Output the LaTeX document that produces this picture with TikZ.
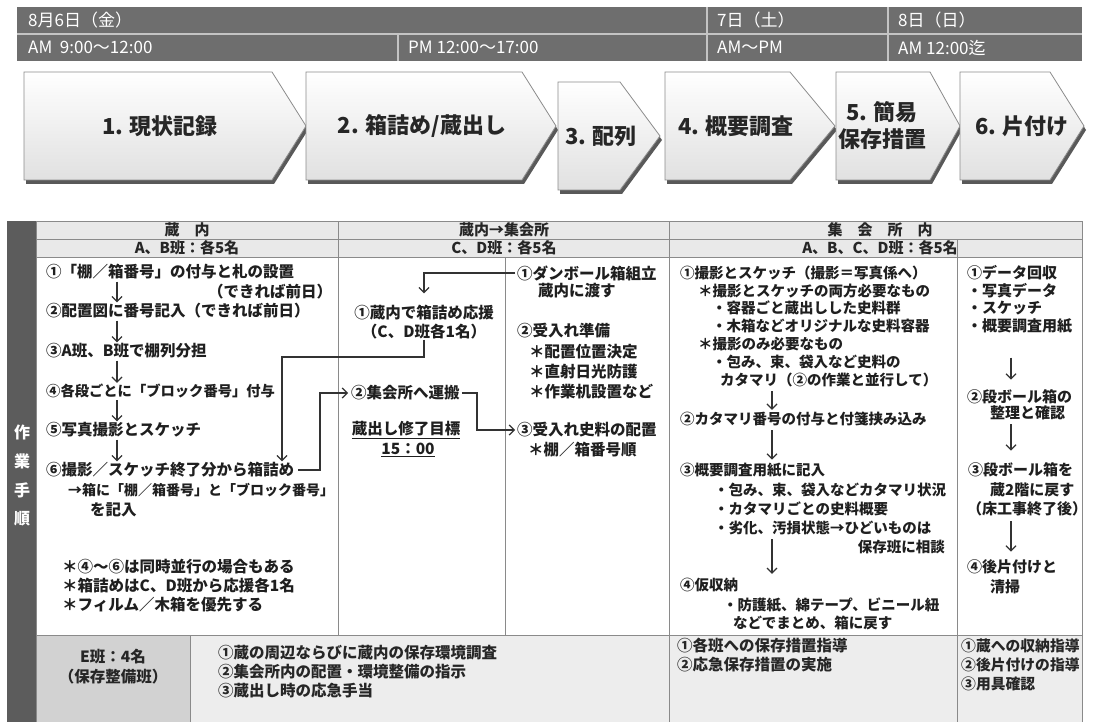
\documentclass[tikz,border=0pt]{standalone}
\usepackage{fontspec}
\setmainfont{Noto Sans CJK JP}
\usetikzlibrary{arrows.meta,calc}
\definecolor{bandc}{HTML}{6E6E6E}
\definecolor{bandl}{HTML}{C4C4C4}
\definecolor{stripc}{HTML}{5C5C5C}
\definecolor{hdrc}{HTML}{E9E9E9}
\definecolor{botd}{HTML}{D2D2D2}
\definecolor{botl}{HTML}{EDEDED}
\definecolor{gridc}{HTML}{8A8A8A}
\newcommand{\mychev}[8]{%
  \fill[black!65] ({#1+2},{#4+4}) -- ({#2+2},{#4+4}) -- ({#3+2},{(#4+#5)/2+4}) -- ({#2+2},{#5+4}) -- ({#1+2},{#5+4}) -- cycle;
  \shadedraw[top color=white,bottom color=black!12,draw=black!45,line width=0.8pt] (#1,#4) -- (#2,#4) -- (#3,{(#4+#5)/2}) -- (#2,#5) -- (#1,#5) -- cycle;
  \node[cl] (#6) at (#8,{(#4+#5)/2}) {#7};
}
\begin{document}
\begin{tikzpicture}[x=1pt,y=-1pt,
  tx/.style={anchor=west,inner sep=0pt,font=\bfseries\fontsize{14.5}{17}\selectfont,text=black!88},
  te/.style={tx,font=\bfseries\fontsize{15}{17}\selectfont},
  ta/.style={tx,font=\bfseries\fontsize{15.5}{17}\selectfont},
  tac/.style={ta,anchor=center},
  txe/.style={tx,anchor=east},
  hd/.style={anchor=west,inner sep=0pt,font=\fontsize{17}{19}\selectfont,text=white},
  th/.style={anchor=center,inner sep=0pt,font=\bfseries\fontsize{15}{17}\selectfont,text=black!85},
  cl/.style={anchor=center,inner sep=0pt,font=\bfseries\fontsize{22}{27}\selectfont,text=black!85,align=center},
  vt/.style={anchor=center,inner sep=0pt,font=\bfseries\fontsize{16}{18}\selectfont,text=white},
  bt/.style={anchor=west,inner sep=0pt,font=\bfseries\fontsize{15.5}{17}\selectfont,text=black!85},
  ar/.style={draw=black!80,line width=1.2pt,-{Straight Barb[length=5pt,width=10pt]}},
  ln/.style={draw=gridc,line width=1pt},
  bl/.style={draw=bandl,line width=1.3pt}
]
\useasboundingbox (0,0) rectangle (1094,722);
\fill[white] (0,0) rectangle (1094,722);

% ---------- schedule band ----------
\fill[bandc] (17,7) rectangle (1082,61);
\draw[bl] (17,34) -- (1082,34);
\draw[bl] (398,34) -- (398,61);
\draw[bl] (707,7) -- (707,61);
\draw[bl] (888,7) -- (888,61);
\node[hd] (d6) at (28,20) {8月6日（金）};
\node[hd] (d7) at (717,20) {7日（土）};
\node[hd] (d8) at (898,20) {8日（日）};
\node[hd] (t1) at (28,47.5) {AM\ \ 9:00～12:00};
\node[hd] (t2) at (408,47.5) {PM 12:00～17:00};
\node[hd] (t3) at (717,47.5) {AM～PM};
\node[hd] (t4) at (898,47.5) {AM 12:00迄};

% ---------- process arrows ----------
\mychev{24}{272}{306}{72}{180}{p1}{1. 現状記録}{160}
\mychev{306}{522}{556}{72}{180}{p2}{2. 箱詰め/蔵出し}{422}
\mychev{558}{620}{660}{82}{190}{p3}{3. 配列}{601}
\mychev{665}{790}{835}{72}{180}{p4}{4. 概要調査}{736}
\mychev{836}{930}{960}{72}{180}{p5}{5. 簡易\\保存措置}{882}
\mychev{960}{1050}{1084}{72}{180}{p6}{6. 片付け}{1022}

% ---------- table frame ----------
\fill[stripc] (7,221) rectangle (36,722);
\fill[hdrc] (36,221) rectangle (1082,257);
\fill[botd] (36,635) rectangle (190,722);
\fill[botl] (190,635) rectangle (1082,722);
\draw[ln] (36,221) -- (1082,221);
\draw[ln] (36,239) -- (1082,239);
\draw[ln] (36,257) -- (1082,257);
\draw[ln] (36,635) -- (1082,635);
\draw[ln] (36,221) -- (36,722);
\draw[ln] (1082,221) -- (1082,722);
\draw[ln] (338,221) -- (338,635);
\draw[ln] (669,221) -- (669,722);
\draw[ln] (505,257) -- (505,635);
\draw[ln] (957,239) -- (957,722);
\draw[ln] (190,635) -- (190,722);

\node[vt] (v1) at (22,432) {作};
\node[vt] (v2) at (22,461) {業};
\node[vt] (v3) at (22,490) {手};
\node[vt] (v4) at (22,519) {順};

\node[th] (h1) at (187,230) {蔵　内};
\node[th] (h1b) at (187,248) {A、B班：各5名};
\node[th] (h2) at (504,230) {蔵内→集会所};
\node[th] (h2b) at (504,248) {C、D班：各5名};
\node[th] (h3) at (880,230) {集　会　所　内};
\node[th] (h3b) at (880,248) {A、B、C、D班：各5名};

% ---------- column A ----------
\node[ta] (a1) at (46,272) {①「棚／箱番号」の付与と札の設置};
\node[ta] (a1b) at (208,292) {（できれば前日）};
\node[ta] (a2) at (46,311) {②配置図に番号記入（できれば前日）};
\node[ta] (a3) at (46,351) {③A班、B班で棚列分担};
\node[ta,font=\bfseries\fontsize{14.3}{16}\selectfont] (a4) at (46,391) {④各段ごとに「ブロック番号」付与};
\node[ta] (a5) at (46,430) {⑤写真撮影とスケッチ};
\node[ta] (a6) at (46,470) {⑥撮影／スケッチ終了分から箱詰め};
\node[ta,font=\bfseries\fontsize{14}{16}\selectfont] (a7) at (68,490) {→箱に「棚／箱番号」と「ブロック番号」};
\node[ta] (a8) at (90,510) {を記入};
\node[ta] (a9) at (62,567) {＊④～⑥は同時並行の場合もある};
\node[ta] (a10) at (62,586) {＊箱詰めはC、D班から応援各1名};
\node[ta] (a11) at (62,605) {＊フィルム／木箱を優先する};

% ---------- column B ----------
\node[tac] (b1) at (424,313) {①蔵内で箱詰め応援};
\node[tac] (b1b) at (424,332) {（C、D班各1名）};
\node[ta] (b2) at (351,393) {②集会所へ運搬};
\node[tac] (b3) at (406,430) {\underline{蔵出し修了目標}};
\node[tac] (b3b) at (408,450) {\underline{15：00}};
\node[ta] (c1) at (517,273) {①ダンボール箱組立};
\node[ta] (c1b) at (538,291) {蔵内に渡す};
\node[ta] (c2) at (517,331) {②受入れ準備};
\node[ta] (c2a) at (529,352) {＊配置位置決定};
\node[ta] (c2b) at (529,372) {＊直射日光防護};
\node[ta] (c2c) at (529,392) {＊作業机設置など};
\node[ta] (c3) at (517,430) {③受入れ史料の配置};
\node[ta] (c3b) at (528,450) {＊棚／箱番号順};

% ---------- column C ----------
\node[tx] (d1) at (680,273) {①撮影とスケッチ（撮影＝写真係へ）};
\node[tx] (d1a) at (698,291) {＊撮影とスケッチの両方必要なもの};
\node[tx] (d1b) at (712,308) {・容器ごと蔵出しした史料群};
\node[tx] (d1c) at (712,326) {・木箱などオリジナルな史料容器};
\node[tx] (d1d) at (698,344) {＊撮影のみ必要なもの};
\node[tx] (d1e) at (712,362) {・包み、束、袋入など史料の};
\node[tx] (d1f) at (720,380) {カタマリ（②の作業と並行して）};
\node[tx] (d2) at (680,419) {②カタマリ番号の付与と付箋挟み込み};
\node[tx] (d3) at (680,470) {③概要調査用紙に記入};
\node[tx] (d3a) at (714,490) {・包み、束、袋入などカタマリ状況};
\node[tx] (d3b) at (714,509) {・カタマリごとの史料概要};
\node[tx] (d3c) at (714,528) {・劣化、汚損状態→ひどいものは};
\node[txe] (d3d) at (945,547) {保存班に相談};
\node[tx] (d4) at (680,585) {④仮収納};
\node[tx] (d4a) at (723,605) {・防護紙、綿テープ、ビニール紐};
\node[tx] (d4b) at (733,623) {などでまとめ、箱に戻す};

\node[te] (e1) at (967,273) {①データ回収};
\node[te] (e1a) at (967,291) {・写真データ};
\node[te] (e1b) at (967,308) {・スケッチ};
\node[te] (e1c) at (967,326) {・概要調査用紙};
\node[te] (e2) at (967,397) {②段ボール箱の};
\node[te] (e2b) at (990,413) {整理と確認};
\node[te] (e3) at (968,470) {③段ボール箱を};
\node[te] (e3b) at (990,490) {蔵2階に戻す};
\node[te] (e3c) at (967,509) {（床工事終了後）};
\node[te] (e4) at (967,567) {④後片付けと};
\node[te] (e4b) at (990,587) {清掃};

% ---------- bottom row ----------
\node[bt,anchor=center] (f0) at (113,657) {E班：4名};
\node[bt,anchor=center] (f0b) at (113,677) {（保存整備班）};
\node[bt] (f1) at (218,653) {①蔵の周辺ならびに蔵内の保存環境調査};
\node[bt] (f1b) at (218,672) {②集会所内の配置・環境整備の指示};
\node[bt] (f1c) at (218,691) {③蔵出し時の応急手当};
\node[bt] (f2) at (677,646) {①各班への保存措置指導};
\node[bt] (f2b) at (677,665) {②応急保存措置の実施};
\node[bt,font=\bfseries\fontsize{14.8}{16}\selectfont] (f3) at (961,646) {①蔵への収納指導};
\node[bt,font=\bfseries\fontsize{14.8}{16}\selectfont] (f3b) at (961,665) {②後片付けの指導};
\node[bt,font=\bfseries\fontsize{14.8}{16}\selectfont] (f3c) at (961,684) {③用具確認};

% ---------- connectors ----------
\coordinate (xA) at (117,0);
\coordinate (xC) at (772,0);
\coordinate (xE) at (1011,0);
\coordinate (k1) at (282,357);
\coordinate (k2) at (320,0);
\coordinate (k3) at (477,0);

\draw[ar,shorten <=2pt,shorten >=1pt] (a1.south -| xA) -- (a2.north -| xA);
\draw[ar,shorten <=2pt,shorten >=1pt] (a2.south -| xA) -- (a3.north -| xA);
\draw[ar,shorten <=2pt,shorten >=1pt] (a3.south -| xA) -- (a4.north -| xA);
\draw[ar,shorten <=2pt,shorten >=1pt] (a4.south -| xA) -- (a5.north -| xA);
\draw[ar,shorten <=2pt,shorten >=1pt] (a5.south -| xA) -- (a6.north -| xA);

\draw[ar,shorten >=12pt] ([xshift=-2pt]c1.west) -| (b1.north);
\draw[ar,shorten >=1pt] (b1b.south) |- (k1) -- (a6.north -| k1);
\draw[ar] ([xshift=4pt]a6.east) -- (a6.east -| k2) -- (b2.west -| k2) -- ([xshift=-3pt]b2.west);
\draw[ar] ([xshift=2pt]b2.east) -- (b2.east -| k3) -- (c3.west -| k3) -- ([xshift=-2pt]c3.west);

\draw[ar,shorten <=4pt,shorten >=2pt] (d1f.south -| xC) -- (d2.north -| xC);
\draw[ar,shorten <=4pt,shorten >=3pt] (d2.south -| xC) -- (d3.north -| xC);
\draw[ar,shorten <=4pt,shorten >=4pt] (d3c.south -| xC) -- (d4.north -| xC);

\draw[ar,shorten <=24pt,shorten >=10pt] (e1c.south -| xE) -- (e2.north -| xE);
\draw[ar,shorten <=4pt,shorten >=12pt] (e2b.south -| xE) -- (e3.north -| xE);
\draw[ar,shorten <=5pt,shorten >=8pt] (e3c.south -| xE) -- (e4.north -| xE);
\end{tikzpicture}
\end{document}
